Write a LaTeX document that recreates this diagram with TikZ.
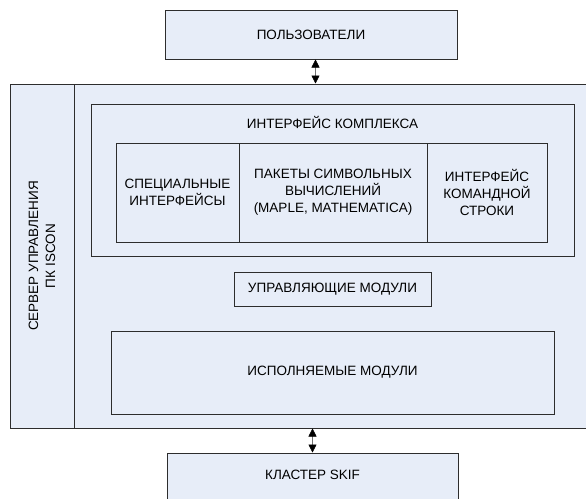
\documentclass[tikz,border=0pt]{standalone}
\usepackage{fontspec}
\setmainfont{Liberation Sans}
\usetikzlibrary{arrows.meta}

\definecolor{boxfill}{RGB}{231,237,248}
\definecolor{boxline}{RGB}{45,45,45}

\tikzset{
  box/.style={draw=boxline, fill=boxfill, line width=1pt, rectangle, inner sep=0pt, align=center,
    font=\fontsize{13.5}{17}\selectfont},
  lbl/.style={inner sep=0pt, align=center, font=\fontsize{13.5}{17}\selectfont},
  dbl/.style={{Triangle[width=8pt,length=8pt,black]}-{Triangle[width=8pt,length=8pt,black]}, line width=0.5pt, draw=black!55}
}

\begin{document}
\begin{tikzpicture}[x=1pt,y=-1pt]
\useasboundingbox (0,0) rectangle (586,498);

% top and bottom blocks
\node [box, minimum width=292pt, minimum height=49pt] (users) at (311,34.5) {ПОЛЬЗОВАТЕЛИ};
\node [box, minimum width=291pt, minimum height=46pt] (cluster) at (312.5,476) {};
\node [lbl] (clustertxt) at (312.5,475) {КЛАСТЕР SKIF};

% server
\node [box, minimum width=580pt, minimum height=344pt] (server) at (300,256) {};
\node [box, rotate=90, minimum width=344pt, minimum height=64pt] (srvcol) at (42,256) {СЕРВЕР УПРАВЛЕНИЯ\\ПК ISCON};

% interface of the complex
\node [box, minimum width=483pt, minimum height=152pt] (iface) at (332.5,180) {};
\node [lbl] (ifacetxt) at (332.5,122) {ИНТЕРФЕЙС КОМПЛЕКСА};
\node [box, minimum width=123pt, minimum height=99pt] (special) at (177.5,192.5) {СПЕЦИАЛЬНЫЕ\\ИНТЕРФЕЙСЫ};
\node [box, minimum width=188pt, minimum height=99pt] (packages) at (333,192.5) {ПАКЕТЫ СИМВОЛЬНЫХ\\ВЫЧИСЛЕНИЙ\\(MAPLE, MATHEMATICA)};
\node [box, minimum width=120pt, minimum height=99pt] (cmdline) at (487,192.5) {ИНТЕРФЕЙС\\КОМАНДНОЙ\\СТРОКИ};

% modules
\node [box, minimum width=197pt, minimum height=34pt] (control) at (332.5,289) {УПРАВЛЯЮЩИЕ МОДУЛИ};
\node [box, minimum width=443pt, minimum height=83pt] (exec) at (332.5,372.5) {ИСПОЛНЯЕМЫЕ МОДУЛИ};

% links
\draw [dbl] ([xshift=4.5pt]users.south) -- ([xshift=4.5pt]users.south |- server.north);
\draw [dbl] (cluster.north) -- (cluster.north |- server.south);

\end{tikzpicture}
\end{document}
